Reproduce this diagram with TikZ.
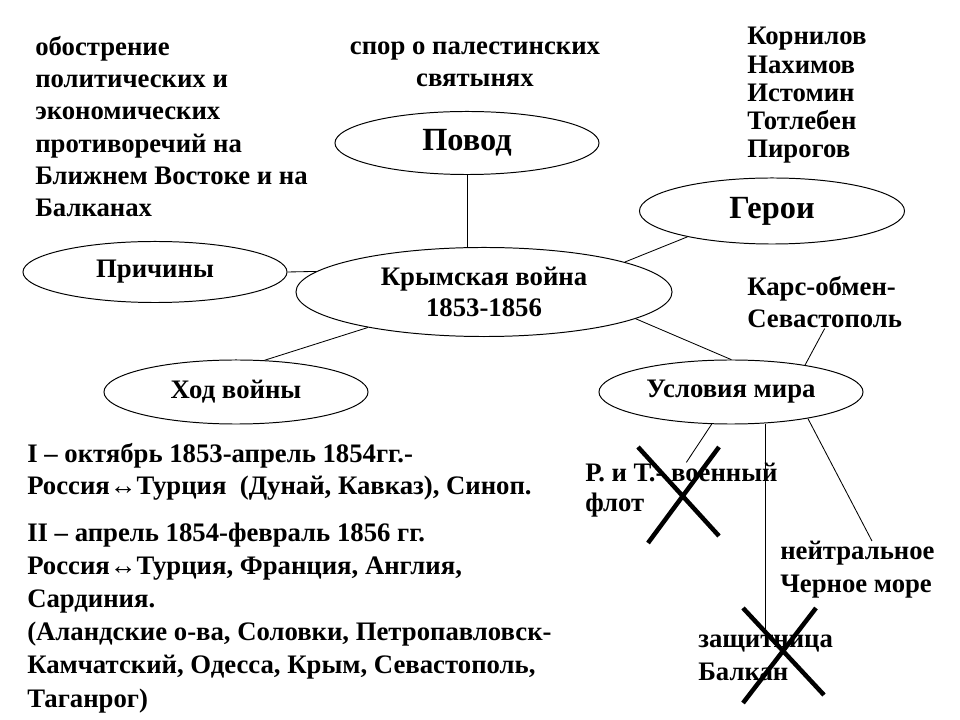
\documentclass[tikz,border=0pt]{standalone}
\usepackage{fontspec}
\setmainfont{Liberation Serif}
\usetikzlibrary{shapes.geometric,positioning}

\begin{document}
\begin{tikzpicture}[
    x=0.025cm, y=-0.025cm,
    topic/.style={draw, ellipse, inner sep=0pt, line width=0.7pt, align=center, font=\fontsize{19}{22.5}\selectfont\bfseries},
    big/.style={font=\fontsize{23}{26}\selectfont\bfseries},
    note/.style={align=left, inner sep=0pt, anchor=base west, font=\fontsize{19}{23}\selectfont\bfseries},
    link/.style={line width=0.6pt},
    cross/.style={line width=3.2pt}
]
\useasboundingbox[fill=white] (0,0) rectangle (960,720);

    % ellipses
    \node[topic, minimum width=9.4cm, minimum height=2.225cm] (krym) at (484,292) {Крымская война\\1853-1856};
    \node[topic, big, minimum width=6.6cm, minimum height=1.575cm] (povod) at (467,143) {Повод};
    \node[topic, big, minimum width=6.625cm, minimum height=1.65cm] (geroi) at (772,211) {Герои};
    \node[topic, minimum width=6.6cm, minimum height=1.525cm] (prich) at (155,272) {Причины};
    \node[topic, minimum width=6.6cm, minimum height=1.6cm] (hod) at (236,392) {Ход войны};
    \node[topic, minimum width=6.6cm, minimum height=1.6cm] (uslov) at (731,392) {Условия мира};

    % texts (placed at the baseline of their last line)
    \node[note] (obostr) at (35,217) {обострение\\политических и\\экономических\\противоречий на\\Ближнем Востоке и на\\Балканах};
    \node[note, align=center, anchor=base] (spor) at (475,87) {спор о палестинских\\святынях};
    \node[note, font=\fontsize{19}{20.1}\selectfont\bfseries] (names) at (747,158) {Корнилов\\Нахимов\\Истомин\\Тотлебен\\Пирогов};
    \node[note] (kars) at (747,328) {Карс-обмен-\\Севастополь};
    \node[note] (etap1) at (27,495) {I -- октябрь 1853-апрель 1854гг.-\\Россия↔Турция\ \ (Дунай, Кавказ), Синоп.};
    \node[note, font=\fontsize{19}{23.5}\selectfont\bfseries] (etap2) at (27,707) {II -- апрель 1854-февраль 1856 гг.\\Россия↔Турция, Франция, Англия,\\Сардиния.\\(Аландские о-ва, Соловки, Петропавловск-\\Камчатский, Одесса, Крым, Севастополь,\\Таганрог)};
    \node[note, font=\fontsize{19}{22}\selectfont\bfseries] (rit) at (585,512) {Р. и Т.- военный\\флот};
    \node[note] (neitr) at (780,592) {нейтральное\\Черное море};
    \node[note] (zash) at (698,680) {защитница\\Балкан};

    % connectors
    \draw[link] (povod.south) -- (povod.south |- krym.north);
    \draw[link] (prich.east) -- (krym.173);
    \draw[link] (hod.48) -- (krym.197);
    \draw[link] (geroi.197) -- (krym.12);
    \draw[link] (krym.350) -- (uslov.north);
    \draw[link] (kars.south) -- (uslov.20);
    \draw[link] (uslov.239) -- (rit.80);
    \draw[link] (zash.north) -- (zash.north |- uslov.south);
    \draw[link] (uslov.341) -- (neitr.63);

    % crossed out
    \draw[cross] (638,447) -- (719,536) (719,447) -- (648,543);
    \draw[cross] (743,608) -- (824,695) (816,608) -- (743,703);

\end{tikzpicture}
\end{document}
